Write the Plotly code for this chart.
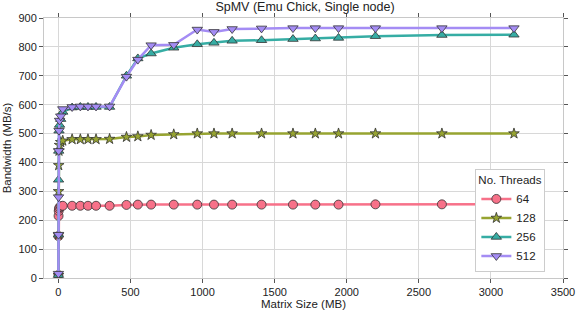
import plotly.graph_objects as go

matrix_size_mb = [0.1, 0.5, 1, 2, 4, 8, 16, 30, 95, 152, 205, 261, 355, 472, 551, 643,
                  800, 963, 1079, 1205, 1409, 1627, 1782, 1943, 2199, 2660, 3160]

bw_64 = [10, 145, 215, 232, 240, 245, 248, 250, 250, 250, 250, 250, 250, 253, 254, 254,
         254, 254, 254, 254, 254, 254, 254, 254, 255, 255, 255]
bw_128 = [10, 150, 300, 390, 440, 460, 470, 475, 480, 480, 480, 480, 481, 488, 490, 495,
          497, 500, 500, 500, 500, 500, 500, 500, 500, 500, 500]
bw_256 = [10, 150, 340, 440, 510, 530, 550, 575, 590, 592, 592, 592, 592, 700, 760, 777,
          797, 809, 814, 821, 823, 827, 829, 831, 837, 841, 842]
bw_512 = [15, 150, 280, 440, 510, 545, 560, 585, 592, 594, 594, 594, 594, 697, 756, 806,
          807, 860, 852, 862, 864, 865, 865, 865, 865, 865, 865]

thread_labels = ["64", "128", "256", "512"]
series = [bw_64, bw_128, bw_256, bw_512]
colors = ["#f77189", "#97a431", "#36ada4", "#a48cf4"]
symbols = ["circle", "star", "triangle-up", "triangle-down"]
sizes = [9, 8, 9, 9]

FONT = "Liberation Sans, Arial, sans-serif"

fig = go.Figure()
for lab, ys, c, s, sz in zip(thread_labels, series, colors, symbols, sizes):
    fig.add_trace(go.Scatter(
        x=matrix_size_mb, y=ys, name=lab, mode="lines+markers",
        line=dict(color=c, width=2.5),
        marker=dict(symbol=s, size=sz, color=c, line=dict(color="#333333", width=0.8)),
    ))

axis_common = dict(
    showgrid=True, gridcolor="#d8d8d8", gridwidth=1,
    showline=True, linecolor="#c8c8c8", linewidth=1, mirror="ticks",
    ticks="outside", ticklen=4, tickcolor="#555555", tickwidth=1,
    zeroline=False, automargin=False,
    tickfont=dict(size=11, color="#222222", family=FONT),
)

fig.update_layout(
    width=581, height=315,
    margin=dict(l=44, r=18, t=18, b=37),
    paper_bgcolor="white", plot_bgcolor="white",
    font=dict(family=FONT, size=11, color="#222222"),
    title=dict(text="SpMV (Emu Chick, Single node)", x=0.525, xref="container",
               y=0.993, yref="container", yanchor="top",
               font=dict(size=12.5, family=FONT, color="#222222")),
    xaxis=dict(range=[-100, 3500], tickvals=[0, 500, 1000, 1500, 2000, 2500, 3000, 3500],
               title=dict(text="Matrix Size (MB)", standoff=0, font=dict(size=11.5)),
               **axis_common),
    yaxis=dict(range=[0, 900], tickvals=list(range(0, 901, 100)),
               title=dict(text="Bandwidth (MB/s)", standoff=4, font=dict(size=11.5)),
               **axis_common),
    legend=dict(x=0.966, y=0.025, xanchor="right", yanchor="bottom",
                bgcolor="white", bordercolor="#cccccc", borderwidth=1,
                title=dict(text="No. Threads", font=dict(size=11.5)),
                font=dict(size=11.5), tracegroupgap=0, itemwidth=30),
    showlegend=True,
)

fig.write_html("out.html", config={"displayModeBar": False},
               post_script="document.body.style.margin='0';")
